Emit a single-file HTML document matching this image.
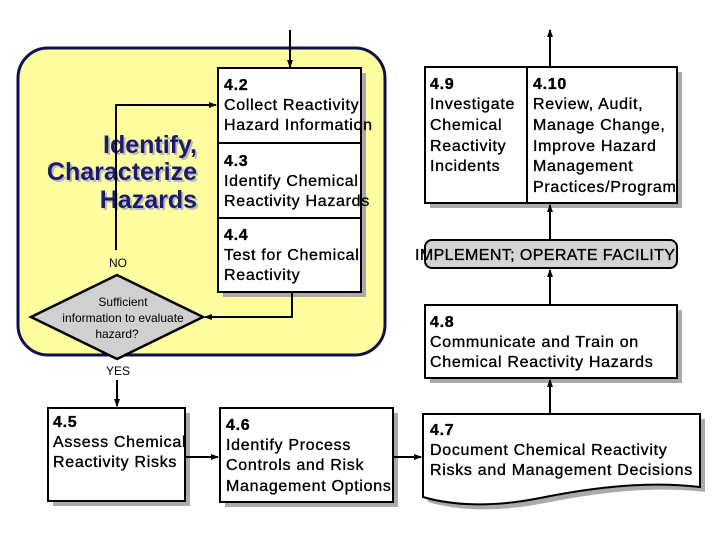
<!DOCTYPE html>
<html><head><meta charset="utf-8"><style>
body{margin:0;background:#fff;width:720px;height:540px;overflow:hidden}
text{font-family:"Liberation Sans",Arial,sans-serif}
</style></head><body>
<svg width="720" height="540" viewBox="0 0 720 540" xmlns="http://www.w3.org/2000/svg">
<defs>
<marker id="a" markerWidth="8" markerHeight="8" refX="7" refY="4" orient="auto" markerUnits="userSpaceOnUse"><path d="M0,1 L8,4 L0,7z" fill="#000"/></marker>
</defs>
<rect x="18" y="48" width="367" height="307" rx="30" fill="#fefea0" stroke="#101050" stroke-width="3"/>
<g font-weight="bold" font-size="25" text-anchor="end" font-family="Liberation Sans">
<text x="199" y="155" fill="#bbb">Identify,</text><text x="197" y="153" fill="#1a1a6e">Identify,</text>
<text x="199" y="182" fill="#bbb">Characterize</text><text x="197" y="180" fill="#1a1a6e">Characterize</text>
<text x="199" y="210" fill="#bbb">Hazards</text><text x="197" y="208" fill="#1a1a6e">Hazards</text>
</g>
<g fill="#aaa">
<rect x="223" y="73" width="143" height="224"/>
<rect x="430" y="72" width="252" height="136"/>
<rect x="430" y="310" width="252" height="73"/>
<rect x="53" y="413" width="137" height="93"/>
<rect x="225" y="413" width="173" height="94"/>
<path d="M428,419 L705,419 L705,492 C645,485 585,495 545,503 C495,513 455,510 428,502 Z"/>
</g>
<g fill="#fff" stroke="#000" stroke-width="2">
<rect x="218" y="68" width="143" height="224"/>
<line x1="218" y1="143" x2="361" y2="143"/>
<line x1="218" y1="218" x2="361" y2="218"/>
<rect x="425" y="67" width="252" height="136"/>
<line x1="527" y1="67" x2="527" y2="203"/>
<rect x="425" y="305" width="252" height="73"/>
<rect x="48" y="408" width="137" height="93"/>
<rect x="220" y="408" width="173" height="94"/>
<path d="M423,414 L700,414 L700,487 C640,480 580,490 540,498 C490,508 450,505 423,497 Z"/>
</g>
<rect x="425" y="240" width="252" height="28" rx="7" fill="#d4d4d4" stroke="#000" stroke-width="2"/>
<polygon points="31,317 117,275 203,317 117,359" fill="#d0d0d0" stroke="#000" stroke-width="2.5"/>
<g stroke="#000" stroke-width="2" fill="none">
<line x1="290" y1="30" x2="290" y2="67" marker-end="url(#a)"/>
<polyline points="116,250 116,105 216,105" marker-end="url(#a)"/>
<polyline points="292,292 292,317 205,317" marker-end="url(#a)"/>
<line x1="117" y1="380" x2="117" y2="406" marker-end="url(#a)"/>
<line x1="185" y1="457" x2="218" y2="457" marker-end="url(#a)"/>
<line x1="393" y1="457" x2="421" y2="457" marker-end="url(#a)"/>
<line x1="550" y1="414" x2="550" y2="380" marker-end="url(#a)"/>
<line x1="550" y1="305" x2="550" y2="270" marker-end="url(#a)"/>
<line x1="550" y1="240" x2="550" y2="205" marker-end="url(#a)"/>
<line x1="550" y1="67" x2="550" y2="30" marker-end="url(#a)"/>
</g>
<g font-size="16" fill="#000" letter-spacing="0.7" stroke="#000" stroke-width="0.35">
<text x="224" y="90" font-weight="bold">4.2</text>
<text x="224" y="110">Collect Reactivity</text>
<text x="224" y="130">Hazard Information</text>
<text x="224" y="166" font-weight="bold">4.3</text>
<text x="224" y="186">Identify Chemical</text>
<text x="224" y="206">Reactivity Hazards</text>
<text x="224" y="240" font-weight="bold">4.4</text>
<text x="224" y="260">Test for Chemical</text>
<text x="224" y="280">Reactivity</text>
<text x="430" y="89" font-weight="bold">4.9</text>
<text x="430" y="109">Investigate</text>
<text x="430" y="130">Chemical</text>
<text x="430" y="151">Reactivity</text>
<text x="430" y="171">Incidents</text>
<text x="533" y="89" font-weight="bold">4.10</text>
<text x="533" y="109">Review, Audit,</text>
<text x="533" y="130">Manage Change,</text>
<text x="533" y="151">Improve Hazard</text>
<text x="533" y="171">Management</text>
<text x="533" y="192">Practices/Program</text>
<text x="415" y="260" letter-spacing="0.4">IMPLEMENT; OPERATE FACILITY</text>
<text x="430" y="327" font-weight="bold">4.8</text>
<text x="430" y="347">Communicate and Train on</text>
<text x="430" y="367">Chemical Reactivity Hazards</text>
<text x="53" y="427" font-weight="bold">4.5</text>
<text x="53" y="447">Assess Chemical</text>
<text x="53" y="467">Reactivity Risks</text>
<text x="226" y="430" font-weight="bold">4.6</text>
<text x="226" y="450">Identify Process</text>
<text x="226" y="470">Controls and Risk</text>
<text x="226" y="491">Management Options</text>
<text x="430" y="435" font-weight="bold">4.7</text>
<text x="430" y="455">Document Chemical Reactivity</text>
<text x="430" y="475">Risks and Management Decisions</text>
</g>
<g font-size="12" fill="#000" text-anchor="middle">
<text x="118" y="267">NO</text>
<text x="123" y="306">Sufficient</text>
<text x="123" y="322">information to evaluate</text>
<text x="117" y="338">hazard?</text>
<text x="118" y="375">YES</text>
</g>
</svg>
</body></html>
